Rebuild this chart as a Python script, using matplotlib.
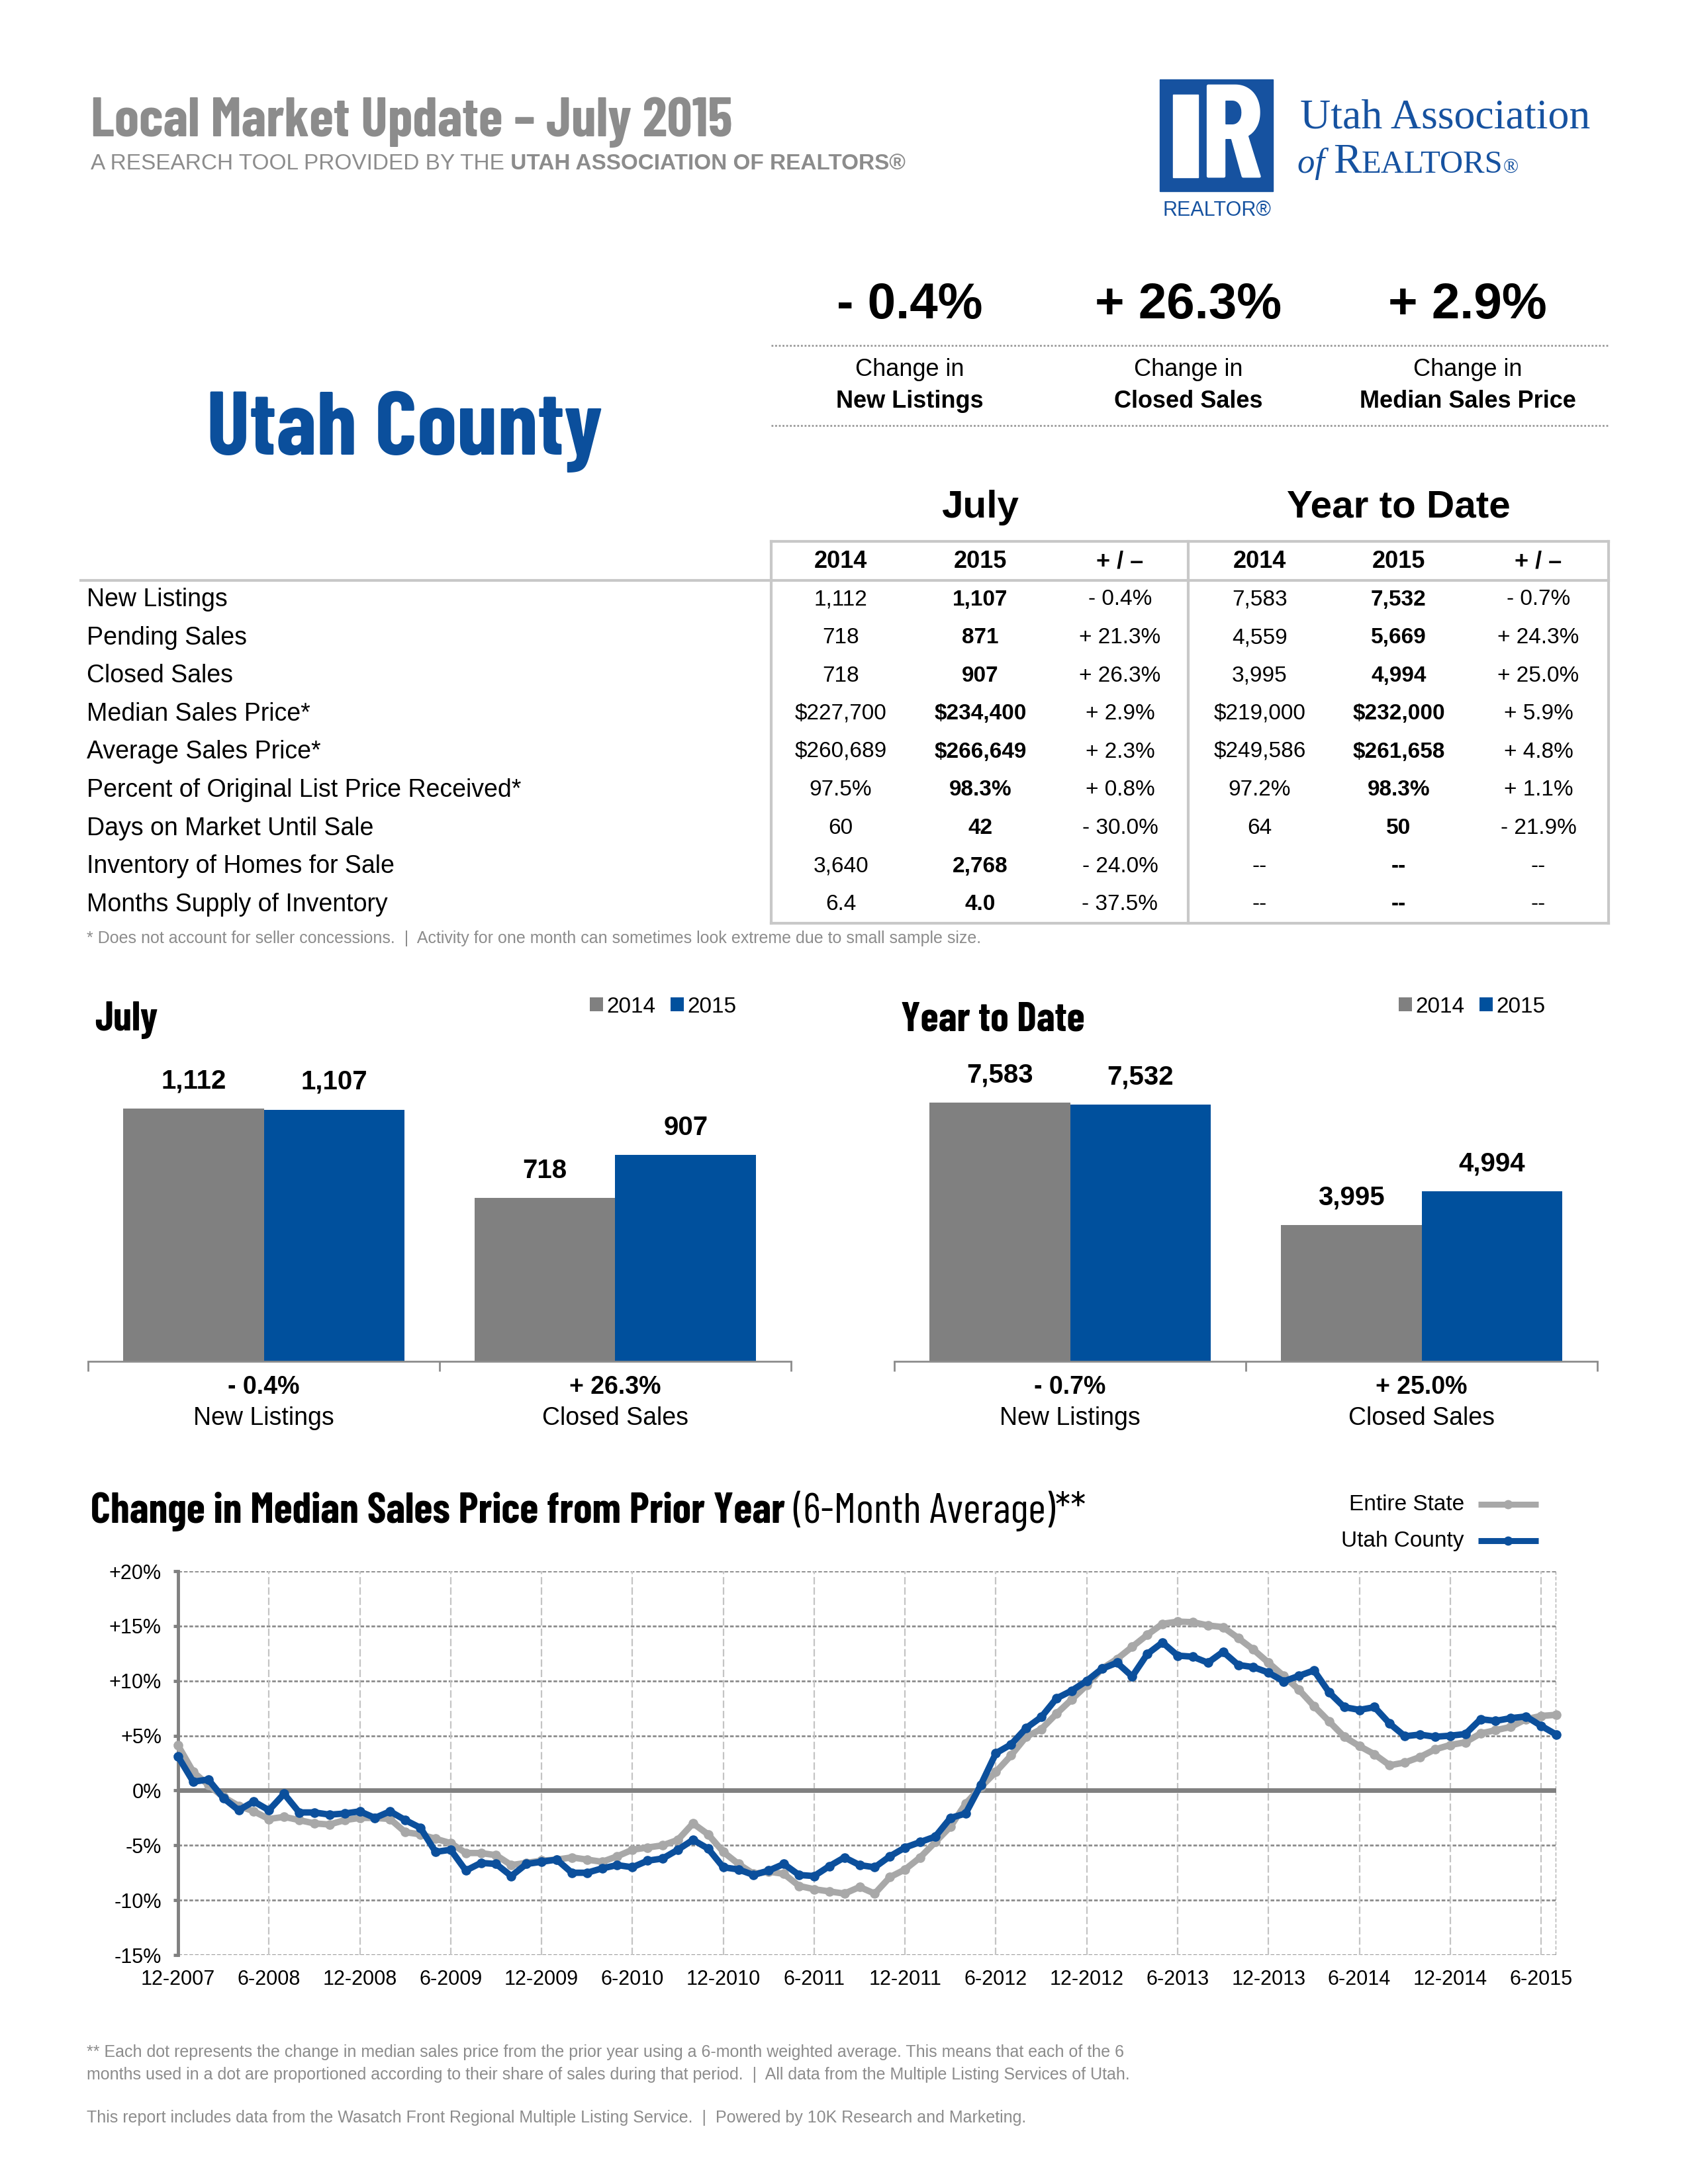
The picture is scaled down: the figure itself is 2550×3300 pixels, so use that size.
import os
import numpy as np
import matplotlib
matplotlib.use('Agg')
import matplotlib.pyplot as plt
from matplotlib import font_manager as fm
from matplotlib.textpath import TextPath
from matplotlib.patches import Rectangle

plt.rcParams['font.family'] = ['Liberation Sans', 'DejaVu Sans']

# ---- données ----
kpi_values = ["- 0.4%", "+ 26.3%", "+ 2.9%"]
kpi_labels = ["New Listings", "Closed Sales", "Median Sales Price"]

row_labels = ["New Listings", "Pending Sales", "Closed Sales", "Median Sales Price*",
              "Average Sales Price*", "Percent of Original List Price Received*",
              "Days on Market Until Sale", "Inventory of Homes for Sale",
              "Months Supply of Inventory"]
jul_2014 = ["1,112", "718", "718", "$227,700", "$260,689", "97.5%", "60", "3,640", "6.4"]
jul_2015 = ["1,107", "871", "907", "$234,400", "$266,649", "98.3%", "42", "2,768", "4.0"]
jul_chg = ["- 0.4%", "+ 21.3%", "+ 26.3%", "+ 2.9%", "+ 2.3%", "+ 0.8%", "- 30.0%", "- 24.0%", "- 37.5%"]
ytd_2014 = ["7,583", "4,559", "3,995", "$219,000", "$249,586", "97.2%", "64", "--", "--"]
ytd_2015 = ["7,532", "5,669", "4,994", "$232,000", "$261,658", "98.3%", "50", "--", "--"]
ytd_chg = ["- 0.7%", "+ 24.3%", "+ 25.0%", "+ 5.9%", "+ 4.8%", "+ 1.1%", "- 21.9%", "--", "--"]

bar_cats = ["New Listings", "Closed Sales"]
july_2014_vals = [1112, 718]
july_2015_vals = [1107, 907]
july_chg_lbl = ["- 0.4%", "+ 26.3%"]
ytd_2014_vals = [7583, 3995]
ytd_2015_vals = [7532, 4994]
ytd_chg_lbl = ["- 0.7%", "+ 25.0%"]

# variation du prix médian, déc. 2007 -> juil. 2015 (92 mois)
entire_state = [4.1, 1.7, 0.5, -0.6, -1.4, -1.9, -2.6, -2.4, -2.7, -3.0, -3.1, -2.7,
                -2.5, -2.5, -2.6, -3.8, -4.0, -4.4, -4.8, -5.7, -5.7, -5.9, -6.8, -6.6,
                -6.4, -6.3, -6.1, -6.3, -6.5, -6.0, -5.4, -5.2, -5.0, -4.5, -3.0, -4.0,
                -5.6, -6.7, -7.6, -7.4, -7.6, -8.7, -9.0, -9.2, -9.4, -8.8, -9.4, -7.9,
                -7.2, -6.1, -4.7, -3.3, -1.2, 0.3, 1.7, 3.2, 4.9, 5.6, 7.0, 8.3,
                9.6, 11.1, 12.0, 13.1, 14.2, 15.2, 15.4, 15.35, 15.05, 14.9, 13.9, 12.85,
                11.65, 10.45, 9.2, 7.7, 6.3, 4.9, 4.05, 3.3, 2.3, 2.55, 3.05, 3.75,
                4.15, 4.4, 5.2, 5.5, 5.8, 6.5, 6.8, 6.9]
utah_county = [3.1, 0.8, 1.0, -0.7, -1.8, -1.0, -1.8, -0.3, -2.0, -2.0, -2.2, -2.1,
               -1.9, -2.5, -1.9, -2.7, -3.4, -5.6, -5.4, -7.3, -6.6, -6.7, -7.8, -6.7,
               -6.5, -6.3, -7.5, -7.5, -7.1, -6.8, -7.0, -6.4, -6.2, -5.4, -4.5, -5.3,
               -7.0, -7.2, -7.7, -7.3, -6.7, -7.7, -7.8, -6.9, -6.1, -6.8, -7.0, -6.0,
               -5.2, -4.7, -4.2, -2.5, -2.1, 0.5, 3.4, 4.2, 5.7, 6.7, 8.4, 9.1,
               10.0, 11.1, 11.65, 10.4, 12.45, 13.5, 12.3, 12.2, 11.65, 12.65, 11.45, 11.25,
               10.75, 9.95, 10.45, 10.95, 8.95, 7.6, 7.35, 7.6, 6.1, 4.95, 5.1, 4.9,
               5.0, 5.15, 6.5, 6.35, 6.6, 6.75, 5.9, 5.1]
xtick_labels = ["12-2007", "6-2008", "12-2008", "6-2009", "12-2009", "6-2010", "12-2010",
                "6-2011", "12-2011", "6-2012", "12-2012", "6-2013", "12-2013", "6-2014",
                "12-2014", "6-2015"]
ytick_labels = ["-15%", "-10%", "-5%", "0%", "+5%", "+10%", "+15%", "+20%"]

# couleurs
GRIS_TITRE = '#8c8c8c'
BLEU = '#0b4f9c'
GRIS_BARRE = '#808080'
BLEU_BARRE = '#00509d'
GRIS_LIGNE = '#a8a8a8'
GRIS_BORD = '#c8c8c8'
BLEU_LOGO = '#1652a0'

# ---- choix d'une police étroite proche de l'original ----
# (fichier gras, fichier normal) par ordre de préférence
candidats = [("IBMPlexSansCondensed-Bold.ttf", "IBMPlexSansCondensed-Regular.ttf"),
             ("EncodeSansCondensed-Bold.ttf", "EncodeSansCondensed-Regular.ttf"),
             ("BarlowSemiCondensed-Bold.ttf", "BarlowSemiCondensed-Regular.ttf"),
             ("BarlowCondensed-Bold.ttf", "BarlowCondensed-Regular.ttf"),
             ("FiraSansExtraCondensed-Bold.ttf", "FiraSansExtraCondensed-Regular.ttf"),
             ("FiraSansCondensed-Bold.ttf", "FiraSansCondensed-Regular.ttf"),
             ("AsapCondensed-Bold.ttf", "AsapCondensed-Regular.ttf"),
             ("DejaVuSansCondensed-Bold.ttf", "DejaVuSansCondensed.ttf")]
chemins = {os.path.basename(f.fname): f.fname for f in fm.fontManager.ttflist}


def rapport(fname, s):
    p = fm.FontProperties(fname=fname, size=100)
    w = TextPath((0, 0), s, prop=p).get_extents().width
    h = TextPath((0, 0), "H", prop=p).get_extents().height
    return w / h


meilleur = None
for gras, normal in candidats:
    if gras in chemins and normal in chemins:
        # rapports largeur / hauteur de capitale mesurés sur la référence
        ecart = abs(np.log(rapport(chemins[gras], "Local Market Update – July 2015") / 16.4)) + \
            abs(np.log(rapport(chemins[gras], "Utah County") / 6.6))
        if meilleur is None or ecart < meilleur[0] - 0.03:
            meilleur = (ecart, gras, normal)
if meilleur:
    ETROIT_GRAS = fm.FontProperties(fname=chemins[meilleur[1]])
    ETROIT = fm.FontProperties(fname=chemins[meilleur[2]])
else:
    ETROIT_GRAS = fm.FontProperties(family=['Liberation Sans'], weight='bold')
    ETROIT = fm.FontProperties(family=['Liberation Sans'])

W, H = 2550, 3300
fig = plt.figure(figsize=(25.5, 33), dpi=100)
bg = fig.add_axes([0, 0, 1, 1])
bg.set_xlim(0, W)
bg.set_ylim(H, 0)
bg.axis('off')
renderer = fig.canvas.get_renderer()


def rect(l, t, r, b):
    return [l / W, 1 - b / H, (r - l) / W, (b - t) / H]


def suite_textes(x, y, morceaux, **commun):
    # écrit plusieurs morceaux de texte à la suite sur la même ligne
    for s, kw in morceaux:
        t = bg.text(x, y, s, va='baseline', ha='left', **commun, **kw)
        x += t.get_window_extent(renderer).width
    return x


def taille_pour_largeur(s, props, largeur):
    t = bg.text(0, 0, s, fontproperties=props, fontsize=40)
    w = t.get_window_extent(renderer).width
    t.remove()
    return 40 * largeur / w


# ---- en-tête ----
bg.text(137, 206, "Local Market Update – July 2015", fontproperties=ETROIT_GRAS,
        fontsize=taille_pour_largeur("Local Market Update – July 2015", ETROIT_GRAS, 969),
        color=GRIS_TITRE, va='baseline')
suite_textes(137, 256, [("A RESEARCH TOOL PROVIDED BY THE", {}),
                        (" UTAH ASSOCIATION OF REALTORS®", {'fontweight': 'bold'})],
             fontsize=24, color=GRIS_TITRE)

# logo
bg.add_patch(Rectangle((1752, 120), 171, 169, color=BLEU_LOGO))
bg.add_patch(Rectangle((1772, 143), 38, 125, color='white'))
bg.text(1813, 268, "R", fontproperties=ETROIT_GRAS,
        fontsize=taille_pour_largeur("R", ETROIT_GRAS, 95), color='white', va='baseline')
bg.text(1838, 326, "REALTOR®", fontsize=22, color=BLEU_LOGO, ha='center', va='baseline')
bg.text(1964, 194, "Utah Association", family=['Liberation Serif', 'DejaVu Serif'],
        fontsize=46, color=BLEU_LOGO, va='baseline')
suite_textes(1960, 261, [("of ", {'fontstyle': 'italic', 'fontsize': 38}),
                         ("R", {'fontsize': 46}),
                         ("EALTORS", {'fontsize': 35}),
                         ("®", {'fontsize': 22})],
             family=['Liberation Serif', 'DejaVu Serif'], color=BLEU_LOGO)

# ---- bloc Utah County + indicateurs ----
bg.text(312, 687, "Utah County", fontproperties=ETROIT_GRAS,
        fontsize=taille_pour_largeur("Utah County", ETROIT_GRAS, 598),
        color=BLEU, va='baseline')
kpi_x = [1374, 1795, 2217]
for x, v, lab in zip(kpi_x, kpi_values, kpi_labels):
    bg.text(x, 462, v, fontsize=55, fontweight='bold', ha='center', va='center')
    bg.text(x, 558, "Change in", fontsize=26, ha='center', va='center')
    bg.text(x, 607, lab, fontsize=26, fontweight='bold', ha='center', va='center')
for y in [522, 643]:
    bg.plot([1165, 2430], [y, y], color='#999999', lw=2, ls=(0, (1, 1)))

# ---- tableau ----
bg.text(1481, 767, "July", fontsize=42, fontweight='bold', ha='center', va='center')
bg.text(2113, 767, "Year to Date", fontsize=42, fontweight='bold', ha='center', va='center')
col_x = [1270, 1481, 1692, 1903, 2113, 2324]
for x, h in zip(col_x, ["2014", "2015", "+ / –", "2014", "2015", "+ / –"]):
    bg.text(x, 849, h, fontsize=26, fontweight='bold', ha='center', va='center')
colonnes = [jul_2014, jul_2015, jul_chg, ytd_2014, ytd_2015, ytd_chg]
for i, lab in enumerate(row_labels):
    y = 906 + i * 57.6
    bg.text(131, y, lab, fontsize=27, va='center')
    for j, (x, col) in enumerate(zip(col_x, colonnes)):
        bg.text(x, y, col[i], fontsize=24, ha='center', va='center',
                fontweight='bold' if j in (1, 4) else 'normal')
lw_tab = 3
bg.plot([1165, 2430], [818, 818], color=GRIS_BORD, lw=lw_tab)
bg.plot([122, 2430], [877, 877], color=GRIS_BORD, lw=lw_tab)
bg.plot([1165, 2430], [1395, 1395], color=GRIS_BORD, lw=lw_tab)
for x in [1165, 1795, 2430]:
    bg.plot([x, x], [818, 1395], color=GRIS_BORD, lw=lw_tab)
bg.text(131, 1418, "* Does not account for seller concessions.  |  Activity for one month can "
        "sometimes look extreme due to small sample size.", fontsize=18,
        color=GRIS_TITRE, va='center')

taille_sous_titre = taille_pour_largeur("Year to Date", ETROIT_GRAS, 278)


# ---- diagrammes en barres ----
def diagramme(pos, titre, titre_x, v14, v15, chg, ymax, leg_x):
    ax = fig.add_axes(rect(*pos))
    x = np.arange(len(bar_cats))
    b14 = ax.bar(x - 0.2, v14, 0.4, color=GRIS_BARRE)
    b15 = ax.bar(x + 0.2, v15, 0.4, color=BLEU_BARRE)
    for xi, v in zip(x, v14):
        ax.annotate(f"{v:,}", (xi - 0.2, v), xytext=(0, 30), textcoords='offset points',
                    ha='center', va='center', fontsize=29, fontweight='bold')
    for xi, v in zip(x, v15):
        ax.annotate(f"{v:,}", (xi + 0.2, v), xytext=(0, 30), textcoords='offset points',
                    ha='center', va='center', fontsize=29, fontweight='bold')
    ax.set_xlim(-0.5, len(bar_cats) - 0.5)
    ax.set_ylim(0, ymax)
    for s in ['top', 'right', 'left']:
        ax.spines[s].set_visible(False)
    ax.spines['bottom'].set_color('#8c8c8c')
    ax.spines['bottom'].set_linewidth(2)
    ax.set_yticks([])
    ax.set_xticks(np.arange(len(bar_cats) + 1) - 0.5)
    ax.set_xticklabels([])
    ax.tick_params(axis='x', length=11, width=2, color='#8c8c8c')
    hauteur = pos[3] - pos[1]
    for xi, c, lab in zip(x, chg, bar_cats):
        ax.text(xi, -39 / hauteur, c, transform=ax.get_xaxis_transform(), ha='center',
                va='center', fontsize=27, fontweight='bold')
        ax.text(xi, -86 / hauteur, lab, transform=ax.get_xaxis_transform(), ha='center',
                va='center', fontsize=27)
    bg.text(titre_x, 1557, titre, fontproperties=ETROIT_GRAS, fontsize=taille_sous_titre,
            va='baseline')
    ax.legend([b14, b15], ["2014", "2015"], loc='center left',
              bbox_to_anchor=(leg_x / W, 1 - 1521 / H), bbox_transform=fig.transFigure,
              ncol=2, frameon=False, handlelength=0.6, handleheight=0.6,
              handletextpad=0.15, columnspacing=0.7, borderpad=0, borderaxespad=0,
              fontsize=24)
    return ax


diagramme((133, 1601, 1195, 2057), "July", 143, july_2014_vals, july_2015_vals,
          july_chg_lbl, 1327, 891)
diagramme((1351, 1601, 2413, 2057), "Year to Date", 1361, ytd_2014_vals, ytd_2015_vals,
          ytd_chg_lbl, 8854, 2113)

# ---- courbe ----
titre_courbe = "Change in Median Sales Price from Prior Year"
taille_courbe = taille_pour_largeur(titre_courbe, ETROIT_GRAS, 1049)
suite_textes(137, 2301, [(titre_courbe, {'fontproperties': ETROIT_GRAS}),
                         (" (6-Month Average)**", {'fontproperties': ETROIT})],
             fontsize=taille_courbe)

for lab, y, col in [("Entire State", 2273, GRIS_LIGNE), ("Utah County", 2328, BLEU)]:
    bg.text(2212, y, lab, fontsize=24, ha='right', va='center')
    bg.plot([2233, 2278, 2324], [y, y, y], color=col, lw=6.5, marker='o',
            markersize=9, markevery=[1], solid_capstyle='butt')

ax = fig.add_axes(rect(269, 2374, 2351, 2954))
mois = np.arange(len(utah_county))
ax.set_xlim(0, len(utah_county) - 1)
ax.set_ylim(-15, 20)
for v in range(-15, 21, 5):
    if v != 0:
        ax.axhline(v, color='#8c8c8c', lw=2, ls=(0, (2, 1)), zorder=1)
for m in range(6, len(utah_county), 6):
    ax.axvline(m, color='#c4c4c4', lw=1.6, ls=(0, (5, 2)), zorder=1)
ax.axvline(len(utah_county) - 1, color='#8c8c8c', lw=2, ls=(0, (2, 1)), zorder=1)
ax.axhline(0, color='#808080', lw=5, zorder=2)
ax.plot(mois, entire_state, color=GRIS_LIGNE, lw=7, marker='o', markersize=9.5,
        zorder=3, clip_on=False)
ax.plot(mois, utah_county, color=BLEU, lw=7, marker='o', markersize=9.5,
        zorder=4, clip_on=False)
for s in ['top', 'right', 'bottom']:
    ax.spines[s].set_visible(False)
ax.spines['left'].set_color('#808080')
ax.spines['left'].set_linewidth(3.5)
ax.set_yticks(range(-15, 21, 5))
ax.set_yticklabels(ytick_labels)
ax.set_xticks(range(0, len(utah_county), 6))
ax.set_xticklabels(xtick_labels)
ax.tick_params(axis='y', length=5, width=3.5, color='#808080', labelsize=22, pad=13)
ax.tick_params(axis='x', length=0, labelsize=22, pad=16)

# ---- notes de bas de page ----
bg.text(131, 3101, "** Each dot represents the change in median sales price from the prior "
        "year using a 6-month weighted average. This means that each of the 6",
        fontsize=18, color=GRIS_TITRE, va='center')
bg.text(131, 3135, "months used in a dot are proportioned according to their share of sales "
        "during that period.  |  All data from the Multiple Listing Services of Utah.",
        fontsize=18, color=GRIS_TITRE, va='center')
bg.text(131, 3200, "This report includes data from the Wasatch Front Regional Multiple Listing "
        "Service.  |  Powered by 10K Research and Marketing.",
        fontsize=18, color=GRIS_TITRE, va='center')

fig.savefig('out.png', dpi=100)
